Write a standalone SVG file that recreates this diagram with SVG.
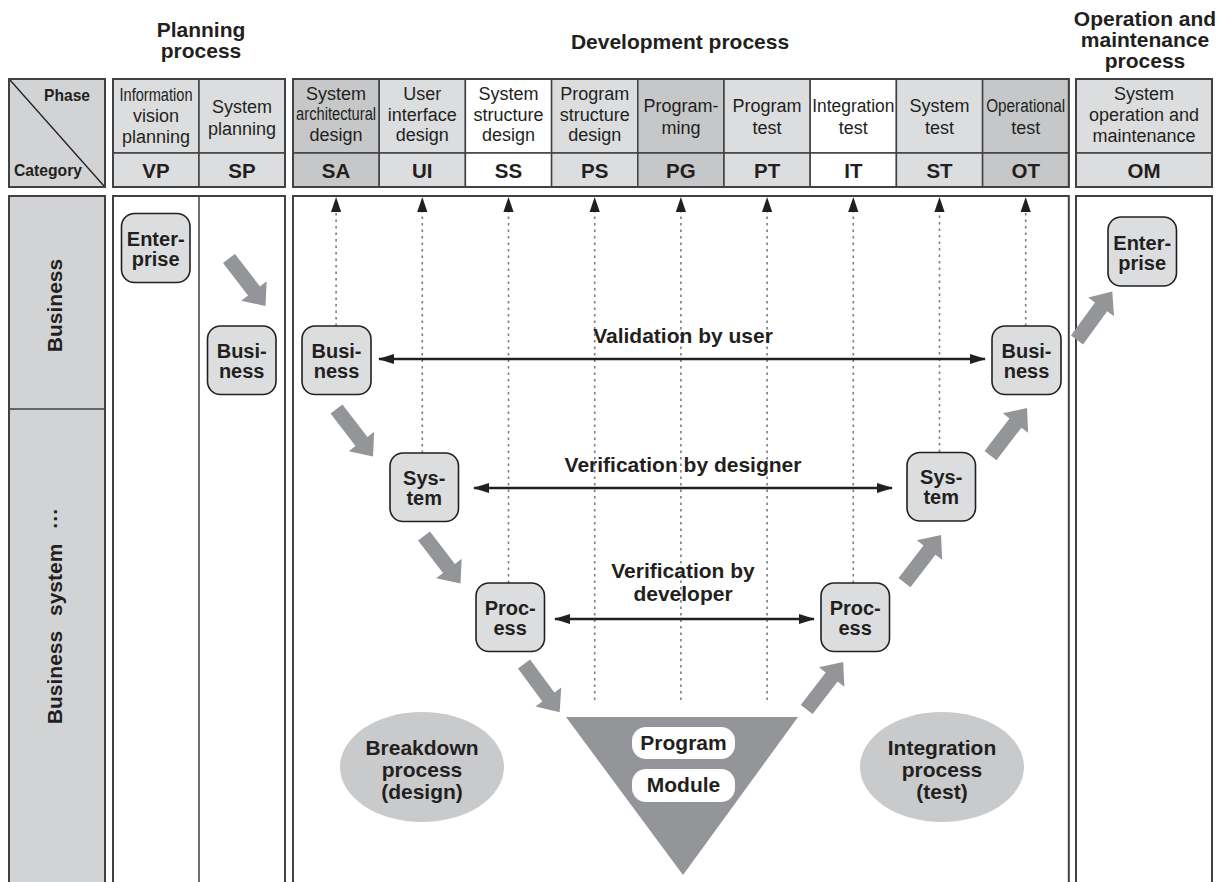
<svg xmlns="http://www.w3.org/2000/svg" width="1228" height="882" viewBox="0 0 1228 882">
<style>
  text { font-family: "Liberation Sans", Arial, "Helvetica", sans-serif; fill: #231f20; }
  .b { font-weight: bold; font-size: 21px; text-anchor: middle; }
  .node text { font-size: 20px; }
  .h { font-size: 18px; text-anchor: middle; }
  .code { font-weight: bold; font-size: 20.5px; text-anchor: middle; }
  .frame { fill: none; stroke: #414042; stroke-width: 2; }
  .cell { stroke: #414042; stroke-width: 1.5; }
  .lt { fill: #dcdddf; }
  .dk { fill: #c6c7c9; }
  .wt { fill: #ffffff; }
  .gr { fill: #d1d3d4; }
  .node rect { fill: #dcdddf; stroke: #231f20; stroke-width: 1.6; }
  .dot { stroke: #7d7d80; stroke-width: 1.6; stroke-dasharray: 2.5 4; fill: none; }
  .dbl { stroke: #231f20; stroke-width: 2.5; fill: none; marker-start: url(#hd); marker-end: url(#hd); }
  .blk { fill: #939598; }
</style>
<defs>
  <path id="blkArrow" d="M0,-7.5 H41 V-16 L60,0 L41,16 V7.5 H0 Z"/>
  <marker id="hd" markerUnits="userSpaceOnUse" markerWidth="16" markerHeight="10" refX="15" refY="5" orient="auto-start-reverse">
    <path d="M0,0 L16,5 L0,10 Z" fill="#231f20"/>
  </marker>
</defs>

<!-- process titles -->
<g id="titles">
  <text class="b" x="201" y="37">Planning</text>
  <text class="b" x="201" y="58">process</text>
  <text class="b" x="680" y="49">Development process</text>
  <text class="b" x="1145" y="26">Operation and</text>
  <text class="b" x="1145" y="47">maintenance</text>
  <text class="b" x="1145" y="68">process</text>
</g>

<!-- header: phase / category corner -->
<g id="corner">
  <rect class="gr" x="9" y="79" width="96" height="108"/>
  <line x1="10" y1="80" x2="104" y2="186" stroke="#231f20" stroke-width="1.3"/>
  <text x="90" y="101" font-weight="bold" font-size="17" text-anchor="end" textLength="46" lengthAdjust="spacingAndGlyphs">Phase</text>
  <text x="14" y="176" font-weight="bold" font-size="17" textLength="68" lengthAdjust="spacingAndGlyphs">Category</text>
  <rect class="frame" x="9" y="79" width="96" height="108"/>
</g>

<!-- header: planning process phases -->
<g id="hdr-planning">
  <rect class="cell lt" x="113" y="79" width="86" height="74"/>
  <rect class="cell lt" x="199" y="79" width="86" height="74"/>
  <rect class="cell lt" x="113" y="153" width="86" height="34"/>
  <rect class="cell lt" x="199" y="153" width="86" height="34"/>
  <text class="h" x="156" y="101" font-size="17" textLength="73" lengthAdjust="spacingAndGlyphs">Information</text>
  <text class="h" x="156" y="122">vision</text>
  <text class="h" x="156" y="143">planning</text>
  <text class="h" x="242" y="113">System</text>
  <text class="h" x="242" y="135">planning</text>
  <text class="code" x="156" y="178">VP</text>
  <text class="code" x="242" y="178">SP</text>
  <rect class="frame" x="113" y="79" width="172" height="108"/>
</g>

<!-- header: development process phases -->
<g id="hdr-development">
  <rect class="cell dk" x="293" y="79" width="86.2" height="74"/>
  <rect class="cell lt" x="379.2" y="79" width="86.2" height="74"/>
  <rect class="cell wt" x="465.4" y="79" width="86.2" height="74"/>
  <rect class="cell lt" x="551.6" y="79" width="86.2" height="74"/>
  <rect class="cell dk" x="637.8" y="79" width="86.2" height="74"/>
  <rect class="cell lt" x="724" y="79" width="86.2" height="74"/>
  <rect class="cell wt" x="810.2" y="79" width="86.2" height="74"/>
  <rect class="cell lt" x="896.4" y="79" width="86.2" height="74"/>
  <rect class="cell dk" x="982.6" y="79" width="86.2" height="74"/>
  <rect class="cell dk" x="293" y="153" width="86.2" height="34"/>
  <rect class="cell lt" x="379.2" y="153" width="86.2" height="34"/>
  <rect class="cell wt" x="465.4" y="153" width="86.2" height="34"/>
  <rect class="cell lt" x="551.6" y="153" width="86.2" height="34"/>
  <rect class="cell dk" x="637.8" y="153" width="86.2" height="34"/>
  <rect class="cell lt" x="724" y="153" width="86.2" height="34"/>
  <rect class="cell wt" x="810.2" y="153" width="86.2" height="34"/>
  <rect class="cell lt" x="896.4" y="153" width="86.2" height="34"/>
  <rect class="cell dk" x="982.6" y="153" width="86.2" height="34"/>

  <text class="h" x="336.1" y="100">System</text>
  <text class="h" x="336.1" y="120" font-size="16" textLength="80" lengthAdjust="spacingAndGlyphs">architectural</text>
  <text class="h" x="336.1" y="141">design</text>
  <text class="h" x="422.3" y="100">User</text>
  <text class="h" x="422.3" y="121">interface</text>
  <text class="h" x="422.3" y="141">design</text>
  <text class="h" x="508.5" y="100">System</text>
  <text class="h" x="508.5" y="121">structure</text>
  <text class="h" x="508.5" y="141">design</text>
  <text class="h" x="594.7" y="100">Program</text>
  <text class="h" x="594.7" y="121">structure</text>
  <text class="h" x="594.7" y="141">design</text>
  <text class="h" x="680.9" y="112">Program-</text>
  <text class="h" x="680.9" y="134">ming</text>
  <text class="h" x="767.1" y="112">Program</text>
  <text class="h" x="767.1" y="134">test</text>
  <text class="h" x="853.3" y="112" font-size="17" textLength="82" lengthAdjust="spacingAndGlyphs">Integration</text>
  <text class="h" x="853.3" y="134">test</text>
  <text class="h" x="939.5" y="112">System</text>
  <text class="h" x="939.5" y="134">test</text>
  <text class="h" x="1025.7" y="112" font-size="17" textLength="79" lengthAdjust="spacingAndGlyphs">Operational</text>
  <text class="h" x="1025.7" y="134">test</text>

  <text class="code" x="336.1" y="178">SA</text>
  <text class="code" x="422.3" y="178">UI</text>
  <text class="code" x="508.5" y="178">SS</text>
  <text class="code" x="594.7" y="178">PS</text>
  <text class="code" x="680.9" y="178">PG</text>
  <text class="code" x="767.1" y="178">PT</text>
  <text class="code" x="853.3" y="178">IT</text>
  <text class="code" x="939.5" y="178">ST</text>
  <text class="code" x="1025.7" y="178">OT</text>
  <rect class="frame" x="293" y="79" width="775.8" height="108"/>
</g>

<!-- header: operation and maintenance -->
<g id="hdr-operation">
  <rect class="cell lt" x="1076" y="79" width="136" height="74"/>
  <rect class="cell lt" x="1076" y="153" width="136" height="34"/>
  <text class="h" x="1144" y="100">System</text>
  <text class="h" x="1144" y="121">operation and</text>
  <text class="h" x="1144" y="142">maintenance</text>
  <text class="code" x="1144" y="178">OM</text>
  <rect class="frame" x="1076" y="79" width="136" height="108"/>
</g>

<!-- body: category column -->
<g id="category-column">
  <rect class="gr" x="9" y="196" width="96" height="700"/>
  <line x1="9" y1="409" x2="105" y2="409" stroke="#414042" stroke-width="1.5"/>
  <text class="b" transform="translate(61.5,305.5) rotate(-90)">Business</text>
  <text class="b" transform="translate(61.5,616) rotate(-90)" word-spacing="9">Business system ···</text>
  <rect class="frame" x="9" y="196" width="96" height="700"/>
</g>

<!-- body: lanes -->
<g id="lanes">
  <rect class="frame" x="113" y="196" width="172" height="700" fill="#fff"/>
  <line x1="199" y1="196" x2="199" y2="882" stroke="#414042" stroke-width="1.5"/>
  <rect class="frame" x="293" y="196" width="775.8" height="700"/>
  <rect class="frame" x="1076" y="196" width="136" height="700"/>
</g>

<!-- process ellipses and program/module triangle -->
<g id="breakdown">
  <ellipse cx="422" cy="767" rx="82" ry="55" fill="#c9cacc"/>
  <text class="b" x="422" y="755">Breakdown</text>
  <text class="b" x="422" y="777">process</text>
  <text class="b" x="422" y="799">(design)</text>
</g>
<g id="integration">
  <ellipse cx="942" cy="767" rx="82" ry="55" fill="#c9cacc"/>
  <text class="b" x="942" y="755">Integration</text>
  <text class="b" x="942" y="777">process</text>
  <text class="b" x="942" y="799">(test)</text>
</g>
<g id="program-module">
  <polygon points="566,717 798,717 683,875" fill="#939598"/>
  <rect x="632" y="727" width="103" height="32" rx="14" fill="#fff"/>
  <rect x="632" y="769" width="103" height="33" rx="14" fill="#fff"/>
  <text class="b" x="683.5" y="750">Program</text>
  <text class="b" x="683.5" y="792">Module</text>
</g>

<!-- connectors -->
<g id="connectors">
  <!-- traceability lines up to the phase header -->
  <line class="dot" x1="336.1" y1="326" x2="336.1" y2="208"/>
  <line class="dot" x1="422.3" y1="453" x2="422.3" y2="208"/>
  <line class="dot" x1="508.5" y1="583" x2="508.5" y2="208"/>
  <line class="dot" x1="594.7" y1="700" x2="594.7" y2="208"/>
  <line class="dot" x1="680.9" y1="700" x2="680.9" y2="208"/>
  <line class="dot" x1="767.1" y1="700" x2="767.1" y2="208"/>
  <line class="dot" x1="853.3" y1="583" x2="853.3" y2="208"/>
  <line class="dot" x1="939.5" y1="452" x2="939.5" y2="208"/>
  <line class="dot" x1="1025.7" y1="326" x2="1025.7" y2="208"/>
  <!-- arrowheads of the traceability lines -->
  <g fill="#231f20">
    <polygon points="336.1,197 331,212 341.2,212"/>
    <polygon points="422.3,197 417.2,212 427.4,212"/>
    <polygon points="508.5,197 503.4,212 513.6,212"/>
    <polygon points="594.7,197 589.6,212 599.8,212"/>
    <polygon points="680.9,197 675.8,212 686,212"/>
    <polygon points="767.1,197 762,212 772.2,212"/>
    <polygon points="853.3,197 848.2,212 858.4,212"/>
    <polygon points="939.5,197 934.4,212 944.6,212"/>
    <polygon points="1025.7,197 1020.6,212 1030.8,212"/>
  </g>

  <!-- flow arrows -->
  <g class="blk">
    <use href="#blkArrow" transform="translate(229,258.5) rotate(52.5)"/>
    <use href="#blkArrow" transform="translate(336.5,409) rotate(52.5)"/>
    <use href="#blkArrow" transform="translate(424,536) rotate(52.5)"/>
    <use href="#blkArrow" transform="translate(524,664) rotate(53.5)"/>
    <use href="#blkArrow" transform="translate(806.7,709.5) rotate(-52.5)"/>
    <use href="#blkArrow" transform="translate(904.5,582.6) rotate(-52.5)"/>
    <use href="#blkArrow" transform="translate(990.5,455.6) rotate(-52.5)"/>
    <use href="#blkArrow" transform="translate(1077,340) rotate(-54)"/>
  </g>

  <!-- validation / verification -->
  <line class="dbl" x1="379" y1="359" x2="985" y2="359"/>
  <text class="b" x="683" y="343">Validation by user</text>
  <line class="dbl" x1="474" y1="488" x2="892" y2="488"/>
  <text class="b" x="683" y="472">Verification by designer</text>
  <line class="dbl" x1="555" y1="619" x2="814" y2="619"/>
  <text class="b" x="683" y="578">Verification by</text>
  <text class="b" x="683" y="601">developer</text>
</g>

<!-- nodes -->
<g id="enterprise-vp" class="node">
  <rect x="121.5" y="213.5" width="68.5" height="69" rx="13"/>
  <text class="b" x="155.7" y="246">Enter-</text>
  <text class="b" x="155.7" y="266">prise</text>
</g>
<g id="business-sp" class="node">
  <rect x="207.5" y="326" width="68.5" height="68.5" rx="13"/>
  <text class="b" x="241.7" y="357.5">Busi-</text>
  <text class="b" x="241.7" y="377.5">ness</text>
</g>
<g id="business-sa" class="node">
  <rect x="302" y="326" width="69" height="68.5" rx="13"/>
  <text class="b" x="336.5" y="357.5">Busi-</text>
  <text class="b" x="336.5" y="377.5">ness</text>
</g>
<g id="system-ui" class="node">
  <rect x="390" y="453" width="68.5" height="68.5" rx="13"/>
  <text class="b" x="424.2" y="484.5">Sys-</text>
  <text class="b" x="424.2" y="504.5">tem</text>
</g>
<g id="process-ss" class="node">
  <rect x="476" y="583" width="68.5" height="68.5" rx="13"/>
  <text class="b" x="510.2" y="614.5">Proc-</text>
  <text class="b" x="510.2" y="634.5">ess</text>
</g>
<g id="process-it" class="node">
  <rect x="821" y="583" width="68.5" height="68.5" rx="13"/>
  <text class="b" x="855.2" y="614.5">Proc-</text>
  <text class="b" x="855.2" y="634.5">ess</text>
</g>
<g id="system-st" class="node">
  <rect x="907" y="452.5" width="68.5" height="68.5" rx="13"/>
  <text class="b" x="941.2" y="484">Sys-</text>
  <text class="b" x="941.2" y="504">tem</text>
</g>
<g id="business-ot" class="node">
  <rect x="992" y="326" width="69" height="68.5" rx="13"/>
  <text class="b" x="1026.5" y="357.5">Busi-</text>
  <text class="b" x="1026.5" y="377.5">ness</text>
</g>
<g id="enterprise-om" class="node">
  <rect x="1108" y="217" width="68.5" height="69" rx="13"/>
  <text class="b" x="1142.2" y="249.5">Enter-</text>
  <text class="b" x="1142.2" y="269.5">prise</text>
</g>
</svg>
